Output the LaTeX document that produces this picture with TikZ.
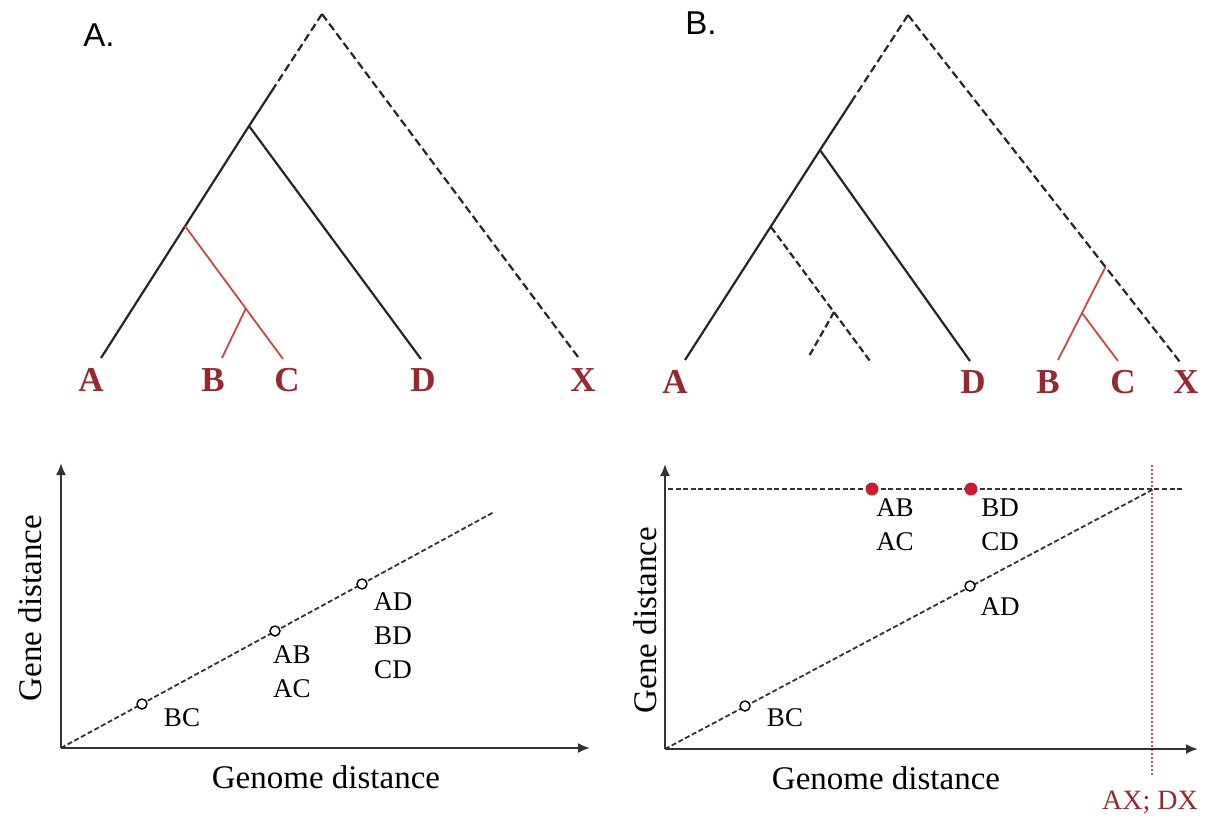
\documentclass[tikz,border=0pt]{standalone}
\usepackage{fontspec}
\setmainfont{Liberation Serif}
\newfontfamily\panelfont{Liberation Sans}
\usetikzlibrary{arrows.meta,positioning,calc}
\definecolor{taxred}{RGB}{150,40,48}
\definecolor{branchred}{RGB}{205,70,70}
\definecolor{dotred}{RGB}{200,30,50}
\definecolor{guidered}{RGB}{190,85,95}

\begin{document}
\begin{tikzpicture}[x=0.5pt, y=-0.5pt,
  branch/.style={line width=1.1pt, black!85},
  lost/.style={branch, dash pattern=on 4pt off 2pt},
  hgt/.style={line width=0.9pt, branchred},
  taxon/.style={font=\fontsize{17.5}{17.5}\selectfont\bfseries, text=taxred, inner sep=0pt},
  panel/.style={font=\panelfont\fontsize{16.5}{16.5}\selectfont, inner sep=0pt},
  axis/.style={line width=1pt, black!80, -{Latex[length=6pt, width=5pt]}},
  trend/.style={line width=0.9pt, black!80, dash pattern=on 2.5pt off 1.3pt},
  pair/.style={font=\fontsize{13.5}{17}\selectfont, align=center, inner sep=0pt},
  axlabel/.style={font=\fontsize{16.5}{16.5}\selectfont, inner sep=0pt},
  pt/.style={circle, draw, line width=0.7pt, inner sep=0pt, minimum size=5pt, fill=white},
  hit/.style={circle, fill=dotred, inner sep=0pt, minimum size=6.5pt}
]
  \useasboundingbox (0,0) rectangle (1211,815);

  % ---- A. species tree
  \node[panel] (labA) at (99,35) {A.};
  \coordinate (rootA) at (322,14);
  \coordinate (n1A) at (249,126);
  \coordinate (n2A) at (185,226);
  \coordinate (n3A) at (246,308);
  \coordinate (lfA) at (101,358);
  \coordinate (lfB) at (222,358);
  \coordinate (lfC) at (283,359);
  \coordinate (lfD) at (421,359);
  \coordinate (lfX) at (578,357);
  \coordinate (cutA) at ($(rootA)!0.63!(n1A)$);
  \draw[lost] (rootA) -- (cutA);
  \draw[lost] (rootA) -- (lfX);
  \draw[branch] (cutA) -- (n1A) -- (lfA);
  \draw[branch] (n1A) -- (lfD);
  \draw[hgt] (n2A) -- (lfC);
  \draw[hgt] (n3A) -- (lfB);
  \node[taxon] (tA) at (91,380) {A};
  \node[taxon] (tB) at (213,380) {B};
  \node[taxon] (tC) at (287,380) {C};
  \node[taxon] (tD) at (423,380) {D};
  \node[taxon] (tX) at (583,380) {X};

  % ---- B. species tree
  \node[panel] (labB) at (701,23) {B.};
  \coordinate (rootB) at (908,15);
  \coordinate (n1B) at (820,150);
  \coordinate (n2B) at (771,227);
  \coordinate (n3B) at (834,312);
  \coordinate (lfAB) at (685,360);
  \coordinate (lfDB) at (970,361);
  \coordinate (gone1) at (870,361);
  \coordinate (gone2) at (808,358);
  \coordinate (lfXB) at (1180,362);
  \coordinate (lfBB) at (1058,360);
  \coordinate (lfCB) at (1118,361);
  \coordinate (cutB) at ($(rootB)!0.63!(n1B)$);
  \coordinate (hgtB) at ($(rootB)!0.726!(lfXB)$);
  \coordinate (n4B) at ($(hgtB)!0.495!(lfBB)$);
  \draw[lost] (rootB) -- (cutB);
  \draw[lost] (rootB) -- (lfXB);
  \draw[branch] (cutB) -- (n1B) -- (lfAB);
  \draw[branch] (n1B) -- (lfDB);
  \draw[lost, dash pattern=on 3.5pt off 1.8pt] (n2B) -- (gone1);
  \draw[lost, dash pattern=on 3.5pt off 1.8pt] (n3B) -- (gone2);
  \draw[hgt] (hgtB) -- (lfBB);
  \draw[hgt] (n4B) -- (lfCB);
  \node[taxon] (tAB) at (675,382) {A};
  \node[taxon] (tDB) at (973,382) {D};
  \node[taxon] (tBB) at (1048,382) {B};
  \node[taxon] (tCB) at (1123,382) {C};
  \node[taxon] (tXB) at (1186,382) {X};

  % ---- A. distance plot
  \coordinate (oA) at (61,748);
  \coordinate (yA) at (61,463);
  \coordinate (xA) at (590,748);
  \coordinate (endA) at (494,512);
  \draw[trend] (oA) -- (endA);
  \draw[axis] (oA) -- (yA);
  \draw[axis] (oA) -- (xA);
  \node[pt] (pBC) at (142,704) {};
  \node[pt] (pAB) at (275,631) {};
  \node[pt] (pAD) at (362,584) {};
  \node[pair] (qBC) at (182,718) {BC};
  \node[pair] (qAB) at (292,672) {AB\\AC};
  \node[pair] (qAD) at (393,636) {AD\\BD\\CD};
  \node[axlabel, rotate=90] (gA) at (30,608) {Gene distance};
  \node[axlabel] (hA) at (326,777) {Genome distance};

  % ---- B. distance plot
  \coordinate (oB) at (665,749);
  \coordinate (yB) at (665,464);
  \coordinate (xB) at (1198,749);
  \coordinate (topL) at (668,489);
  \coordinate (topR) at (1183,489);
  \coordinate (meet) at (1152,490);
  \coordinate (vTop) at (1152,465);
  \coordinate (vBot) at (1152,776);
  \draw[guidered, line width=0.7pt, dash pattern=on 1pt off 1pt] (vTop) -- (vBot);
  \draw[trend] (topL) -- (topR);
  \draw[trend] (oB) -- (meet);
  \draw[axis] (oB) -- (yB);
  \draw[axis] (oB) -- (xB);
  \node[pt] (rBC) at (745,706) {};
  \node[pt] (rAD) at (970,586) {};
  \node[hit] (rAB) at (872,489) {};
  \node[hit] (rBD) at (971,489) {};
  \node[pair] (sAB) at (895,525) {AB\\AC};
  \node[pair] (sBD) at (1000,525) {BD\\CD};
  \node[pair] (sAD) at (1000,607) {AD};
  \node[pair] (sBC) at (785,718) {BC};
  \node[axlabel, rotate=90] (gB) at (645,620) {Gene distance};
  \node[axlabel] (hB) at (886,778) {Genome distance};
  \node[pair, text=taxred, font=\fontsize{14}{14}\selectfont] (lim) at (1150,802) {AX; DX};
\end{tikzpicture}
\end{document}
